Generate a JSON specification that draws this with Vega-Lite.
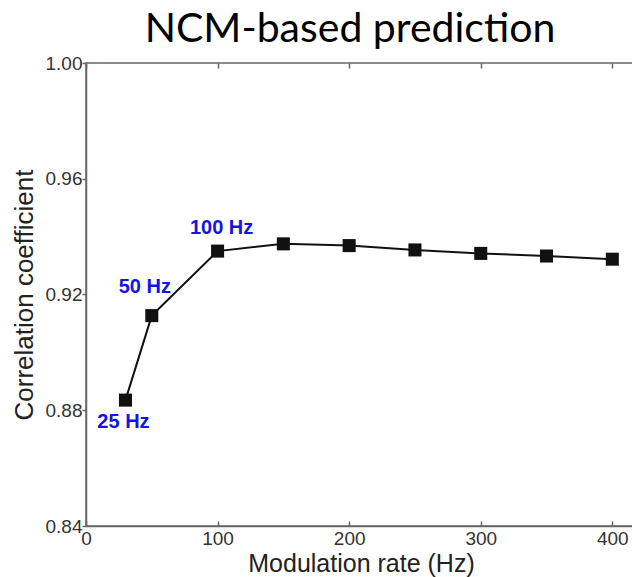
{
  "$schema": "https://vega.github.io/schema/vega-lite/v6.json",
  "width": 550,
  "height": 463,
  "autosize": "none",
  "padding": {"left": 86, "top": 63, "right": 0, "bottom": 51},
  "background": "white",
  "title": {"text": "NCM-based prediction", "font": "Lato", "fontSize": 41, "fontWeight": "normal", "color": "#000000", "anchor": "middle", "frame": "group", "dx": -11, "offset": 3},
  "config": {
    "view": {"stroke": "#666666", "strokeWidth": 1.5},
    "axis": {
      "grid": false,
      "domainColor": "#666666",
      "domainWidth": 1.5,
      "tickColor": "#666666",
      "tickWidth": 1.5,
      "labelFont": "Liberation Sans",
      "labelFontSize": 19,
      "labelColor": "#333333",
      "titleFont": "Liberation Sans",
      "titleFontSize": 26,
      "titleFontWeight": "normal",
      "titleColor": "#222222"
    }
  },
  "data": {
    "values": [
      {"rate": 30, "r": 0.8835, "label": "25 Hz"},
      {"rate": 50, "r": 0.9127, "label": "50 Hz"},
      {"rate": 100, "r": 0.935, "label": "100 Hz"},
      {"rate": 150, "r": 0.9375, "label": ""},
      {"rate": 200, "r": 0.9369, "label": ""},
      {"rate": 250, "r": 0.9354, "label": ""},
      {"rate": 300, "r": 0.9342, "label": ""},
      {"rate": 350, "r": 0.9333, "label": ""},
      {"rate": 400, "r": 0.9322, "label": ""}
    ]
  },
  "layer": [
    {
      "mark": {"type": "line", "color": "#111111", "strokeWidth": 2},
      "encoding": {
        "x": {"field": "rate", "type": "quantitative", "scale": {"domain": [0, 418], "nice": false, "zero": false},
              "axis": {"orient": "bottom", "title": "Modulation rate (Hz)", "titleFontSize": 25, "values": [0, 100, 200, 300, 400], "tickSize": -5, "labelPadding": 8, "titlePadding": 3, "labelFlush": false}},
        "y": {"field": "r", "type": "quantitative", "scale": {"domain": [0.84, 1.0], "nice": false, "zero": false},
              "axis": {"orient": "left", "title": "Correlation coefficient", "values": [0.84, 0.88, 0.92, 0.96, 1.0], "format": ".2f", "tickSize": 4, "labelPadding": 0, "titlePadding": 8, "labelFlush": false}}
      }
    },
    {
      "mark": {"type": "point", "shape": "square", "filled": true, "size": 170, "color": "#111111", "opacity": 1},
      "encoding": {
        "x": {"field": "rate", "type": "quantitative", "axis": {"orient": "top", "title": null, "labels": false, "domain": false, "values": [0, 100, 200, 300, 400], "tickSize": -5}},
        "y": {"field": "r", "type": "quantitative", "axis": {"orient": "right", "title": null, "labels": false, "domain": false, "values": [0.84, 0.88, 0.92, 0.96, 1.0], "tickSize": -4}}
      }
    },
    {
      "transform": [{"filter": "datum.label == '25 Hz'"}],
      "mark": {"type": "text", "font": "Liberation Sans", "fontWeight": "bold", "fontSize": 20, "color": "#1414e6", "align": "center", "baseline": "middle", "dx": -2, "dy": 22},
      "encoding": {
        "x": {"field": "rate", "type": "quantitative", "axis": null},
        "y": {"field": "r", "type": "quantitative", "axis": null},
        "text": {"field": "label"}
      }
    },
    {
      "transform": [{"filter": "datum.label == '50 Hz'"}],
      "mark": {"type": "text", "font": "Liberation Sans", "fontWeight": "bold", "fontSize": 20, "color": "#1414e6", "align": "center", "baseline": "middle", "dx": -7, "dy": -29},
      "encoding": {
        "x": {"field": "rate", "type": "quantitative", "axis": null},
        "y": {"field": "r", "type": "quantitative", "axis": null},
        "text": {"field": "label"}
      }
    },
    {
      "transform": [{"filter": "datum.label == '100 Hz'"}],
      "mark": {"type": "text", "font": "Liberation Sans", "fontWeight": "bold", "fontSize": 20, "color": "#1414e6", "align": "center", "baseline": "middle", "dx": 4, "dy": -23},
      "encoding": {
        "x": {"field": "rate", "type": "quantitative", "axis": null},
        "y": {"field": "r", "type": "quantitative", "axis": null},
        "text": {"field": "label"}
      }
    }
  ],
  "resolve": {"axis": {"x": "independent", "y": "independent"}}
}
